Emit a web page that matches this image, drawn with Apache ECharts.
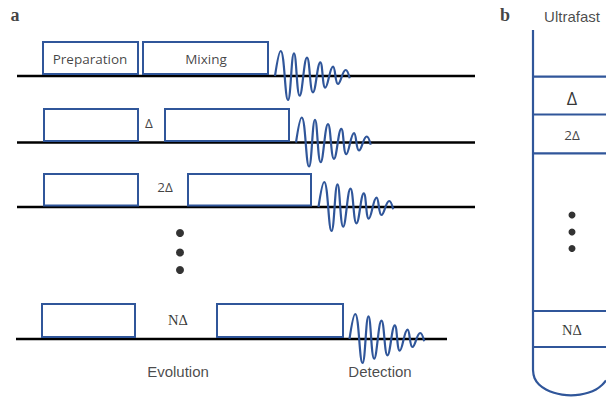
<!DOCTYPE html>
<html>
<head>
<meta charset="utf-8">
<script src="https://cdn.jsdelivr.net/npm/echarts@6/dist/echarts.min.js"></script>
<style>
html,body{margin:0;padding:0;background:#fff;}
#chart{width:606px;height:398px;}
</style>
</head>
<body>
<div id="chart"></div>
<script>
// ---- Panel a: pulse-sequence rows ----
const rowBaselineY = [76, 142.5, 207, 339];
const rowLineX = [[17, 475], [17, 475], [17, 475], [16, 447]];
// boxes: [x1, x2, yTop, yBottom]
const pulseBoxes = [
  [43, 138, 42, 74], [143, 268, 42, 74],
  [44, 138, 109, 141], [165, 289, 109, 141],
  [44, 138, 174, 205.5], [188, 311, 174, 205.5],
  [42, 135, 304, 337], [217, 343, 304, 337]
];
// FID start x per row
const fidStartX = [275, 296, 318.5, 349.5];
// FID shape: [dx, dy up]
const fidPeaks = [
  [0, 0], [5.7, 25], [13, -24], [19, 22.7], [24.7, -19.6], [32, 18.4], [38, -16.3],
  [45.3, 13.7], [50.3, -11.6], [58, 9.4], [63, -8], [70.7, 6], [74.7, -2.3]
];
const dotsA = [[180, 233], [180, 252.5], [180, 270]];

// ---- Panel b: ultrafast tube ----
const tubeLeftX = 533;
const tubeTopY = 30;
const tubeDividersY = [76.7, 114.5, 153.3, 311, 347];
const tubeBottom = [[533, 370], [534.5, 378], [539, 384.5], [546, 389.5], [554, 392.8], [562, 394.6], [571, 395.3], [580, 394.6], [588, 392.8], [596, 389.5], [602, 385], [606, 380.5]];
const dotsB = [[572, 215], [572, 232], [572, 248.5]];

// ---- texts: [x, y, text, style] ----
const texts = [
  [15, 15, 'a', 'tag'], [505, 15, 'b', 'tag'],
  [572, 16, 'Ultrafast', 'arial'],
  [90, 59, 'Preparation', 'cal'], [206, 59, 'Mixing', 'cal'],
  [149, 123, 'Δ', 'cal'], [165, 187, '2Δ', 'cal'], [178, 320, 'NΔ', 'serif'],
  [178, 371, 'Evolution', 'arial'], [380, 371, 'Detection', 'arial'],
  [572, 98, 'Δ', 'calBig'], [572, 135, '2Δ', 'cal'], [572, 329.5, 'NΔ', 'serif']
];

const BLUE = '#30569a';
const styles = {
  tag: {fontFamily: 'Liberation Serif', fontWeight: 'bold', fontSize: 18, color: '#111'},
  arial: {fontFamily: 'Liberation Sans', fontSize: 15, color: '#1a1a1a'},
  cal: {fontFamily: 'Open Sans', fontSize: 13.5, color: '#111'},
  calBig: {fontFamily: 'Open Sans', fontSize: 18, color: '#000'},
  serif: {fontFamily: 'Liberation Serif', fontSize: 14.5, color: '#000'}
};

const series = [];
rowBaselineY.forEach((y, i) => {
  series.push({type: 'line', data: [[rowLineX[i][0], y], [rowLineX[i][1], y]], symbol: 'none',
    lineStyle: {color: '#000', width: 2.3}, z: 2});
  series.push({type: 'line', smooth: 0.45, symbol: 'none',
    data: fidPeaks.map(p => [fidStartX[i] + p[0], y - p[1]]),
    lineStyle: {color: BLUE, width: 2.2}, z: 3});
});
series.push({
  type: 'custom', z: 4,
  encode: {x: [0, 1], y: [2, 3]},
  data: pulseBoxes,
  renderItem: function (params, api) {
    const p1 = api.coord([api.value(0), api.value(2)]);
    const p2 = api.coord([api.value(1), api.value(3)]);
    return {type: 'rect', shape: {x: Math.min(p1[0], p2[0]), y: Math.min(p1[1], p2[1]),
      width: Math.abs(p2[0] - p1[0]), height: Math.abs(p2[1] - p1[1])},
      style: {fill: 'none', stroke: BLUE, lineWidth: 2}};
  }
});
series.push({type: 'scatter', data: dotsA, symbolSize: 8, itemStyle: {color: '#000'}});
series.push({type: 'scatter', data: dotsB, symbolSize: 7, itemStyle: {color: '#000'}});
series.push({type: 'line', data: [[tubeLeftX, tubeTopY], [tubeLeftX, tubeBottom[0][1]]], symbol: 'none',
  lineStyle: {color: BLUE, width: 2.2}});
series.push({type: 'line', data: tubeBottom, smooth: 0.4, symbol: 'none', lineStyle: {color: BLUE, width: 2.2}});
tubeDividersY.forEach(y => {
  series.push({type: 'line', data: [[tubeLeftX, y], [606, y]], symbol: 'none', lineStyle: {color: BLUE, width: 2.2}});
});
series.push({
  type: 'scatter', symbolSize: 1, itemStyle: {color: 'rgba(0,0,0,0)'}, z: 10,
  data: texts.map(t => ({value: [t[0], t[1]], label: Object.assign({show: true, position: 'inside',
    formatter: t[2], align: 'center', verticalAlign: 'middle'}, styles[t[3]])}))
});

const chart = echarts.init(document.getElementById('chart'), null, {renderer: 'svg'});
chart.setOption({
  animation: false,
  backgroundColor: '#fff',
  grid: {left: 0, right: 0, top: 0, bottom: 0},
  xAxis: {type: 'value', min: 0, max: 606, show: false},
  yAxis: {type: 'value', min: 0, max: 398, inverse: true, show: false},
  series: series
});
</script>
</body>
</html>
